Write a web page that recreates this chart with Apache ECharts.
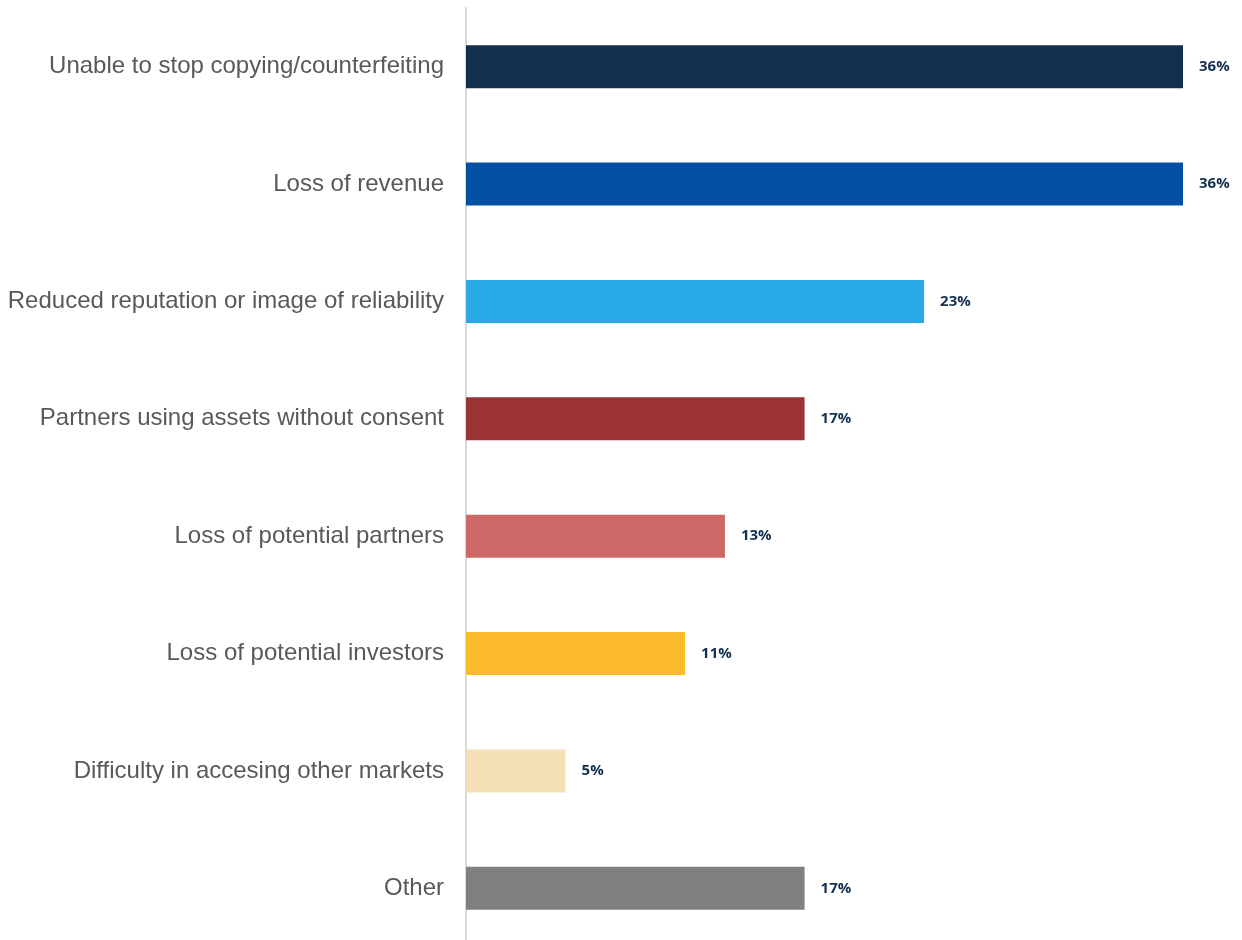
<!DOCTYPE html>
<html><head><meta charset="utf-8">
<script src="https://cdn.jsdelivr.net/npm/echarts@6/dist/echarts.min.js"></script>
<style>html,body{margin:0;padding:0;background:#fff;overflow:hidden}#c{width:1242px;height:947px}</style>
</head><body><div id="c"></div>
<script>
const categories = ["Unable to stop copying/counterfeiting","Loss of revenue","Reduced reputation or image of reliability","Partners using assets without consent","Loss of potential partners","Loss of potential investors","Difficulty in accesing other markets","Other"];
const values = [36,36,23,17,13,11,5,17];
const colors = ["#12304f","#0350a3","#29aae6","#9b3233","#cc6967","#fbbb2a","#f4e0b6","#808080"];
const chart = echarts.init(document.getElementById('c'));
chart.setOption({
  animation:false,
  grid:{left:466,right:59,top:8,bottom:0},
  xAxis:{type:'value',min:0,max:36,show:false},
  yAxis:{type:'category',inverse:true,data:categories,
    axisLine:{show:true,lineStyle:{color:'#d9d9d9',width:2}},
    axisTick:{show:false},
    axisLabel:{fontFamily:'Liberation Sans, Arial',fontSize:24,color:'#595959',margin:22}},
  series:[{type:'bar',barWidth:43,
    data:values.map((v,i)=>({value:v,itemStyle:{color:colors[i]}})),
    label:{show:true,position:'right',distance:16,formatter:'{c}%',fontFamily:'Open Sans',fontWeight:'bold',fontSize:15,color:'#12304f'}}]
});
</script></body></html>
